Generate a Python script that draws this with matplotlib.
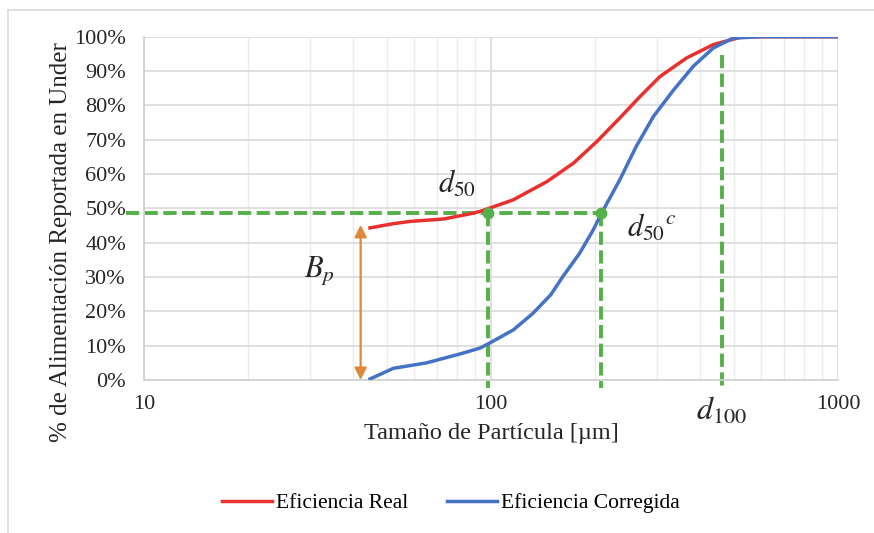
"""
Curva de eficiencia de clasificacion: real y corregida
"""

import numpy as np
import matplotlib.pyplot as plt
from matplotlib.ticker import PercentFormatter, FixedLocator, NullFormatter
from matplotlib.lines import Line2D

plt.rcParams['font.family'] = ['Liberation Serif', 'DejaVu Serif']
plt.rcParams['mathtext.fontset'] = 'stix'

# datos
size_real = [44.8, 52, 58.5, 73, 87, 93, 100, 116, 145, 173, 202, 235, 269, 307, 366, 437, 522, 600, 1000]
eff_real = [44.3, 45.5, 46.2, 46.9, 48.4, 49.1, 50.2, 52.5, 57.8, 63.2, 69.5, 76.3, 82.6, 88.4, 93.8, 97.7, 99.8, 100, 100]

size_corr = [44.8, 52.3, 65.3, 81.5, 93, 99.7, 116, 132, 148.6, 161, 180, 197, 208, 235, 262, 294, 336, 383, 437, 499, 600, 1000]
eff_corr = [0.3, 3.4, 5.0, 7.6, 9.3, 10.9, 14.6, 19.4, 24.8, 30.1, 36.9, 43.7, 48.5, 58.3, 68.0, 76.8, 84.5, 91.4, 96.7, 99.6, 100, 100]

d50 = 98
d50c = 208
d100 = 463
cut_level = 48.5
bp_x = 42.1
bp_top = 45.2

x_ticks = [10, 100, 1000]
y_ticks = list(range(0, 101, 10))

red = '#E8312F'
blue = '#4472C4'
green = '#55B04A'
orange = '#E0883A'
text_col = '#262626'

fig = plt.figure(figsize=(8.74, 5.33), dpi=100)
ax = fig.add_axes([144/874, 1-380/533, (838-144)/874, (380-36.7)/533])

ax.set_xscale('log')
ax.set_xlim(10, 1000)
ax.set_ylim(0, 100)

# rejilla
ax.set_xticks(x_ticks, labels=[str(v) for v in x_ticks])
minor = [m*10**e for e in (1, 2) for m in range(2, 10)]
ax.xaxis.set_minor_locator(FixedLocator(minor))
ax.xaxis.set_minor_formatter(NullFormatter())
ax.yaxis.set_major_locator(FixedLocator(y_ticks))
ax.yaxis.set_major_formatter(PercentFormatter(decimals=0))
ax.grid(True, which='major', color='#D9D9D9', linewidth=1.2)
ax.grid(True, which='minor', axis='x', color='#EBEBEB', linewidth=1.0)
ax.set_axisbelow(True)
for s in ['top', 'right']:
    ax.spines[s].set_visible(False)
for s in ['left', 'bottom']:
    ax.spines[s].set_color('#D0D0D0')
    ax.spines[s].set_linewidth(1.2)
ax.tick_params(which='both', length=0, labelsize=16, colors=text_col)
ax.tick_params(axis='y', pad=13)
ax.tick_params(axis='x', pad=11)

# lineas guia
dash = dict(color=green, linewidth=2.8, dashes=(3.4, 1.4), clip_on=False)
ax.plot([8.9, d50c], [cut_level, cut_level], **dash)
ax.plot([d50, d50], [cut_level, -2.2], **dash)
ax.plot([d50c, d50c], [cut_level, -2.2], **dash)
ax.plot([d100, d100], [94.8, -1.7], **dash)

# curvas
ax.plot(size_real, eff_real, color=red, linewidth=2.5, label='Eficiencia Real', zorder=3)
ax.plot(size_corr, eff_corr, color=blue, linewidth=2.5, label='Eficiencia Corregida', zorder=3)

ax.plot([d50, d50c], [cut_level, cut_level], 'o', color=green, markersize=7.5, zorder=4)

# flecha de bypass
ax.annotate('', xy=(bp_x, 0), xytext=(bp_x, bp_top),
            arrowprops=dict(arrowstyle='<|-|>', color=orange, linewidth=1.6,
                            mutation_scale=18, shrinkA=0, shrinkB=0))

ax.text(80, 57, r'$d_{50}$', fontsize=22, ha='center', va='center', color=text_col)
ax.text(290, 44.3, r'$d_{50}{}^{c}$', fontsize=22, ha='center', va='center', color=text_col)
ax.text(32, 32, r'$B_p$', fontsize=22, ha='center', va='center', color=text_col)
ax.text(d100, -9, r'$d_{100}$', fontsize=23, ha='center', va='center', color=text_col)

ax.set_xlabel('Tamaño de Partícula [µm]', fontsize=17.5, color=text_col, labelpad=6)
ax.set_ylabel('% de Alimentación Reportada en Under', fontsize=18, color=text_col)
ax.yaxis.set_label_coords((72-144)/694, (380-242)/343.3)

fig.legend(loc='center', bbox_to_anchor=(0.516, 1-503/533), ncol=2, frameon=False,
           fontsize=15.5, handlelength=2.3, columnspacing=1.8, handletextpad=0.2)

# marco del grafico
fig.add_artist(Line2D([8/874, 1], [1-10/533, 1-10/533], color='#D9D9D9', linewidth=1.2))
fig.add_artist(Line2D([8/874, 8/874], [1-10/533, 0], color='#D9D9D9', linewidth=1.2))

fig.savefig('out.png', dpi=100)
